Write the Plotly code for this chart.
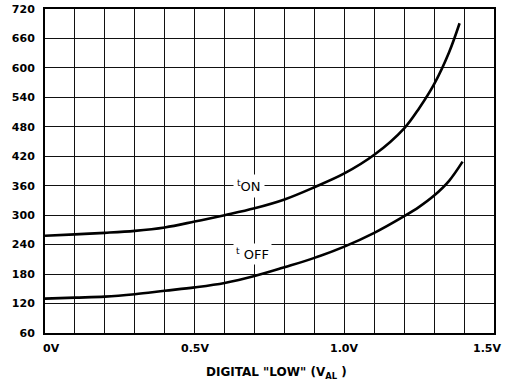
import plotly.graph_objects as go

# ---- data ----
ton_x = [0.0, 0.1, 0.2, 0.3, 0.4, 0.5, 0.6, 0.7, 0.8, 0.9, 1.0, 1.1, 1.2, 1.25, 1.3, 1.35, 1.385]
ton_y = [258, 261, 264, 268, 275, 287, 300, 314, 332, 357, 385, 423, 477, 518, 567, 632, 691]

toff_x = [0.0, 0.1, 0.2, 0.3, 0.4, 0.5, 0.6, 0.7, 0.8, 0.9, 1.0, 1.1, 1.2, 1.25, 1.3, 1.35, 1.395]
toff_y = [130, 132, 134, 139, 146, 153, 162, 176, 194, 213, 236, 264, 298, 317, 340, 370, 409]

y_ticks = [60, 120, 180, 240, 300, 360, 420, 480, 540, 600, 660, 720]
x_tick_vals = [0.0, 0.5, 1.0, 1.5]
x_tick_text = ["0V", "0.5V", "1.0V", "1.5V"]
x_tick_shift = [6, 0, 0, -7]

FONT = "DejaVu Sans"

fig = go.Figure()
for xs, ys in [(ton_x, ton_y), (toff_x, toff_y)]:
    fig.add_trace(go.Scatter(x=xs, y=ys, mode="lines",
                             line=dict(color="black", width=2.6, shape="spline", smoothing=1.0),
                             showlegend=False, hoverinfo="skip"))

annotations = []
for v, t, s in zip(x_tick_vals, x_tick_text, x_tick_shift):
    annotations.append(dict(x=v, y=0, xref="x", yref="paper", text=t, showarrow=False,
                            xanchor="center", yanchor="middle", yshift=-15, xshift=s,
                            font=dict(family=FONT, size=11, color="black", weight="bold")))

annotations.append(dict(x=0.68, y=359, xref="x", yref="y", text="<sup>t</sup>ON",
                        showarrow=False, bgcolor="white", borderpad=3,
                        font=dict(family=FONT, size=13, color="black")))
annotations.append(dict(x=0.693, y=221, xref="x", yref="y", text="<sup>t</sup> OFF",
                        showarrow=False, bgcolor="white", borderpad=2,
                        font=dict(family=FONT, size=13, color="black")))

annotations.append(dict(x=0.515, y=0, xref="paper", yref="paper", yshift=-40,
                        text="DIGITAL \"LOW\" (V<sub>AL</sub> )", showarrow=False,
                        xanchor="center", yanchor="middle",
                        font=dict(family=FONT, size=12, color="black", weight="bold")))

fig.update_layout(
    width=519, height=387,
    margin=dict(l=45, r=25, t=9, b=54),
    plot_bgcolor="white", paper_bgcolor="white",
    annotations=annotations,
    xaxis=dict(range=[0, 1.5], dtick=0.1, tick0=0, showticklabels=False,
               showgrid=True, gridcolor="#111", gridwidth=1.3, zeroline=False,
               showline=True, linecolor="black", linewidth=2, mirror=True, ticks="",
               automargin=False),
    yaxis=dict(range=[60, 720], tickvals=y_ticks, showgrid=True, gridcolor="#111",
               gridwidth=1.3, zeroline=False, showline=True, linecolor="black",
               linewidth=2, mirror=True, ticks="", ticklabelstandoff=6, automargin=False,
               tickfont=dict(family=FONT, size=11, color="black", weight="bold")),
)

fig.write_html("out.html", config={"displayModeBar": False},
               post_script="document.body.style.margin='0';")
